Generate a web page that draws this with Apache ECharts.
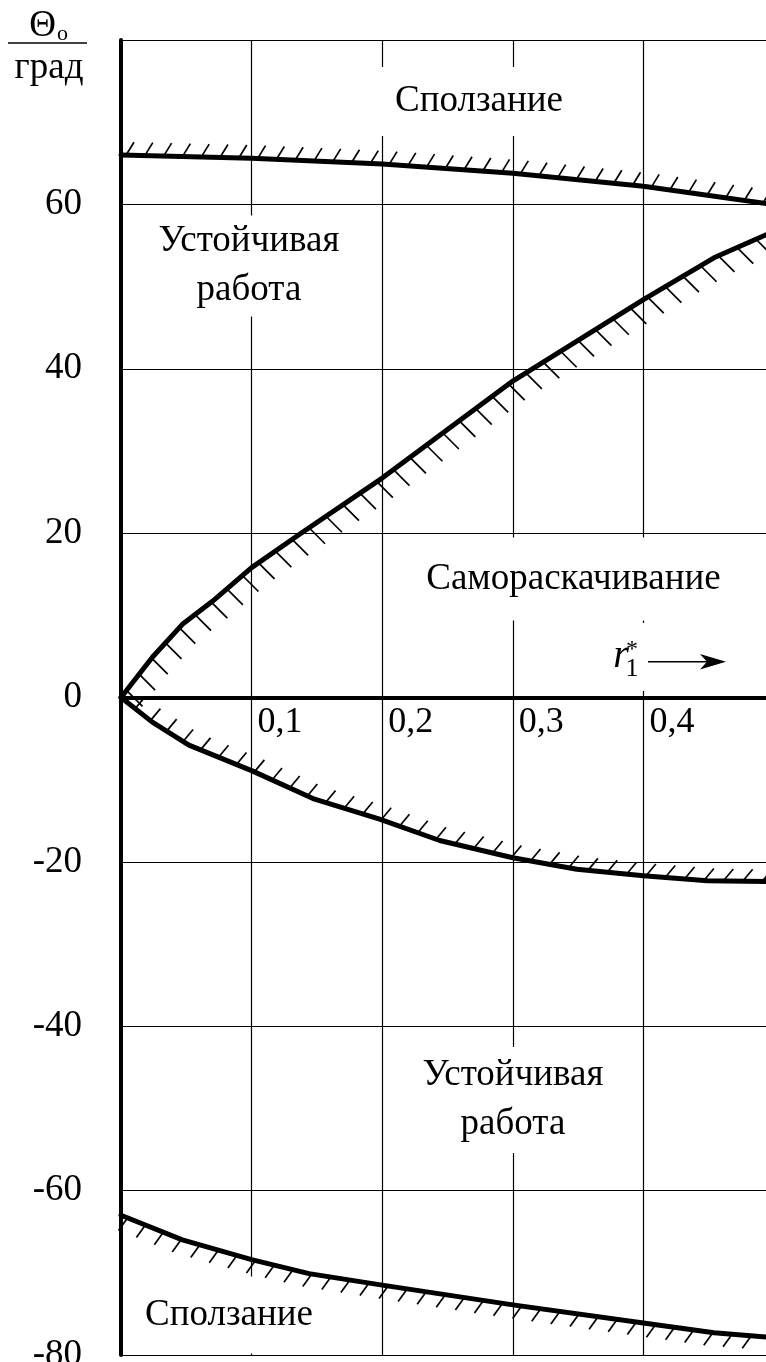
<!DOCTYPE html>
<html>
<head>
<meta charset="utf-8">
<script src="https://cdn.jsdelivr.net/npm/echarts@6/dist/echarts.min.js"></script>
<style>
  html, body { margin: 0; padding: 0; background: #fff; }
  #chart { width: 766px; height: 1362px; }
</style>
</head>
<body>
<div id="chart"></div>
<script>
// Stability boundaries Θo(r1*) — values in degrees
const xTickVals = [0.1, 0.2, 0.3, 0.4];
const xTickText = ['0,1', '0,2', '0,3', '0,4'];
const yTicks = [-80, -60, -40, -20, 0, 20, 40, 60];

// upper creep boundary
const slipTopX = [0, 0.1, 0.2, 0.3, 0.4, 0.494];
const slipTopY = [66.0, 65.6, 64.9, 63.8, 62.2, 60.1];

// upper self-excitation boundary
const selfUpX = [0, 0.024, 0.047, 0.070, 0.100, 0.137, 0.200, 0.300, 0.400, 0.454, 0.494];
const selfUpY = [0, 4.9, 8.9, 11.7, 15.8, 19.9, 26.7, 38.5, 48.4, 53.5, 56.3];

// lower self-excitation boundary
const selfLowX = [0, 0.024, 0.052, 0.100, 0.147, 0.198, 0.244, 0.300, 0.349, 0.400, 0.449, 0.494];
const selfLowY = [0, -3.0, -5.8, -8.9, -12.3, -14.8, -17.4, -19.5, -20.9, -21.7, -22.3, -22.4];

// lower creep boundary
const slipBotX = [0, 0.047, 0.100, 0.144, 0.200, 0.300, 0.400, 0.454, 0.494];
const slipBotY = [-63.0, -66.0, -68.4, -70.1, -71.5, -73.9, -76.1, -77.3, -77.8];

const FONT = '"Liberation Serif", "Times New Roman", serif';

function zip(xs, ys) { return xs.map((x, i) => [x, ys[i]]); }

// hatch ticks placed along the curve at fixed arc-length steps
function hatch(xs, ys, h) {
  return function (params, api) {
    const pts = xs.map((x, i) => api.coord([x, ys[i]]));
    const children = [];
    let d = h.offset;
    for (let i = 0; i < pts.length - 1; i++) {
      const [x0, y0] = pts[i], [x1, y1] = pts[i + 1];
      const seg = Math.hypot(x1 - x0, y1 - y0);
      while (d <= seg) {
        const t = d / seg;
        const px = x0 + (x1 - x0) * t, py = y0 + (y1 - y0) * t;
        children.push({
          type: 'line',
          shape: { x1: px, y1: py, x2: px + h.dx, y2: py + h.dy },
          style: { stroke: '#000', lineWidth: 1.7 }
        });
        d += h.step;
      }
      d -= seg;
    }
    return { type: 'group', children };
  };
}

function boundary(xs, ys, h) {
  return [
    {
      type: 'line', data: zip(xs, ys), symbol: 'none', smooth: false, z: 3,
      lineStyle: { color: '#000', width: 5, cap: 'round', join: 'round' },
      animation: false
    },
    {
      type: 'custom', data: [[xs[0], ys[0]]], z: 3, animation: false,
      renderItem: hatch(xs, ys, h)
    }
  ];
}

function regionLabel(text, x, y, pad, lh) {
  return {
    type: 'text', x, y, z: 1,
    style: {
      text, font: '37px ' + FONT, fill: '#000',
      align: 'center', verticalAlign: 'middle',
      lineHeight: lh || 37,
      backgroundColor: '#fff', padding: pad
    }
  };
}

const chart = echarts.init(document.getElementById('chart'), null, { renderer: 'canvas' });

chart.setOption({
  animation: false,
  backgroundColor: '#fff',
  grid: { left: 121, right: -8, top: 40, bottom: 7, containLabel: false, outerBoundsMode: 'none' },
  xAxis: {
    type: 'value', min: 0, max: 0.5, interval: 0.1,
    axisLine: { show: true, onZero: true, lineStyle: { color: '#000', width: 4 } },
    axisTick: { show: false },
    splitLine: { show: true, lineStyle: { color: '#000', width: 1.2 } },
    axisLabel: { show: false }
  },
  yAxis: {
    type: 'value', min: -80, max: 80, interval: 20,
    axisLine: { show: true, lineStyle: { color: '#000', width: 4 } },
    axisTick: { show: false },
    splitLine: { show: true, lineStyle: { color: '#000', width: 1.2 } },
    axisLabel: {
      show: true, margin: 39, fontFamily: FONT, fontSize: 37, color: '#000',
      formatter: v => (yTicks.indexOf(v) >= 0 ? String(v) : '')
    }
  },
  graphic: [
    // axis title Θo / град
    { type: 'text', x: 42.5, y: 26, z: 1,
      style: { text: 'Θ', font: '37px ' + FONT, fill: '#000', align: 'center', verticalAlign: 'middle' } },
    { type: 'text', x: 62.5, y: 34, z: 1,
      style: { text: 'o', font: '22px ' + FONT, fill: '#000', align: 'center', verticalAlign: 'middle' } },
    { type: 'line', z: 1, shape: { x1: 8, y1: 43, x2: 87, y2: 43 }, style: { stroke: '#000', lineWidth: 1.5 } },
    { type: 'text', x: 49, y: 68, z: 1,
      style: { text: 'град', font: '37px ' + FONT, fill: '#000', align: 'center', verticalAlign: 'middle' } },

    // region names
    regionLabel('Сползание', 479, 101.5, [15, 14, 17, 14]),
    regionLabel('Устойчивая\nработа', 249, 266, [0, 8, 3, 8], 49),
    regionLabel('Самораскачивание', 573.5, 579, [21, 10, 25, 10]),
    regionLabel('Устойчивая\nработа', 513, 1100, [0, 8, 8, 8], 49),
    regionLabel('Сползание', 229, 1315, [20, 12, 20, 12]),

    // abscissa name r1* with arrow
    { type: 'rect', z: 1, shape: { x: 600, y: 623, width: 130, height: 68 }, style: { fill: '#fff' } },
    { type: 'text', x: 621, y: 656.5, z: 1,
      style: { text: 'r', font: 'italic 40px ' + FONT, fill: '#000', align: 'center', verticalAlign: 'middle' } },
    { type: 'text', x: 632, y: 669, z: 1,
      style: { text: '1', font: '26px ' + FONT, fill: '#000', align: 'center', verticalAlign: 'middle' } },
    { type: 'text', x: 632, y: 650, z: 1,
      style: { text: '*', font: '24px ' + FONT, fill: '#000', align: 'center', verticalAlign: 'middle' } },
    { type: 'line', z: 1, shape: { x1: 648, y1: 661.7, x2: 712, y2: 661.7 }, style: { stroke: '#000', lineWidth: 1.6 } },
    { type: 'polygon', z: 1, shape: { points: [[700, 654], [726, 661.7], [700, 669.5], [707, 661.7]] }, style: { fill: '#000' } }
  ],
  series: [
    ...boundary(slipTopX, slipTopY, { dx: 8, dy: -13, step: 18.8, offset: 5 }),
    ...boundary(selfUpX, selfUpY, { dx: 16, dy: 16, step: 20.5, offset: 9 }),
    ...boundary(selfLowX, selfLowY, { dx: 10, dy: -12, step: 19.4, offset: 18 }),
    ...boundary(slipBotX, slipBotY, { dx: -9, dy: 12.5, step: 19.3, offset: 7 }),
    // abscissa tick values, written just below the zero line
    {
      type: 'scatter', data: xTickVals.map(v => [v, 0]), symbolSize: 0, z: 4,
      silent: true, animation: false,
      itemStyle: { opacity: 1 },
      label: {
        show: true, position: [6, 7], align: 'left', verticalAlign: 'top',
        fontFamily: FONT, fontSize: 36, color: '#000', opacity: 1,
        formatter: p => xTickText[p.dataIndex]
      }
    }
  ]
});
</script>
</body>
</html>
